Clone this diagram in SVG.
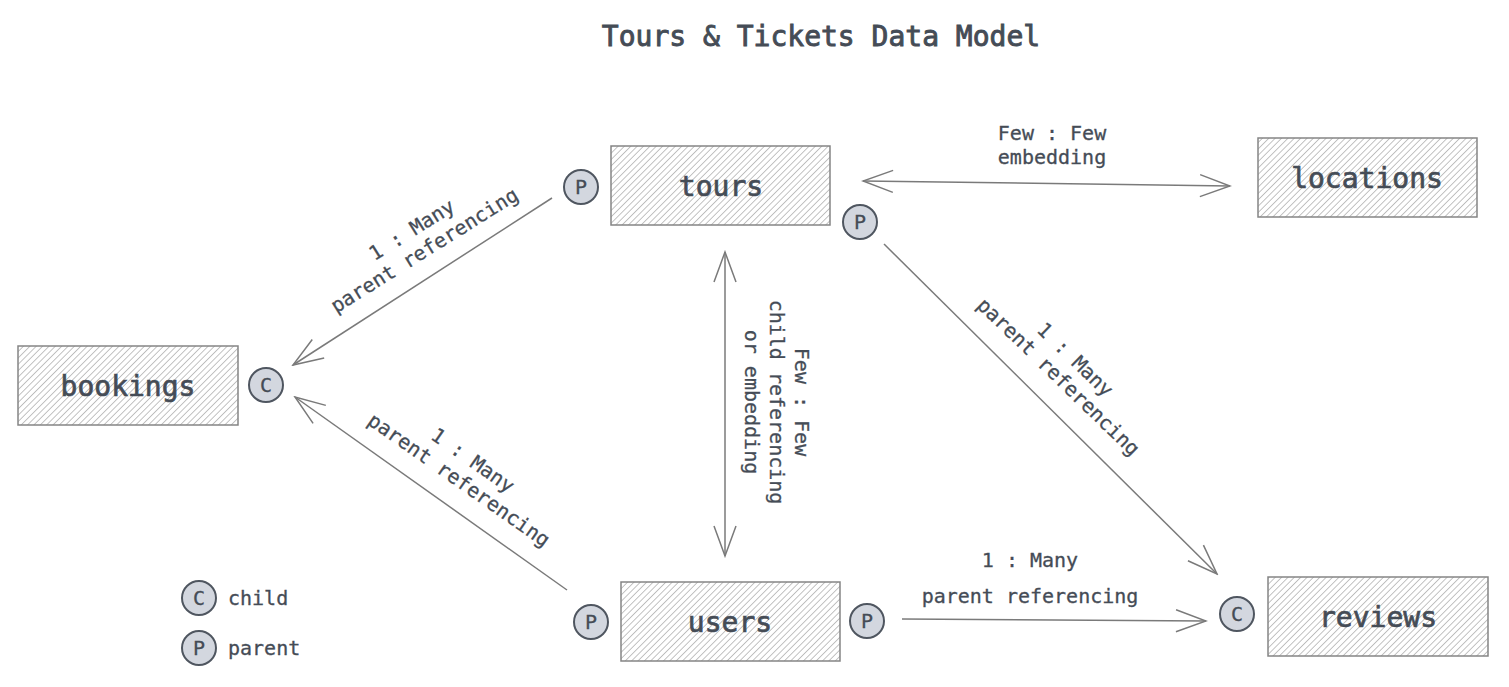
<svg xmlns="http://www.w3.org/2000/svg" width="1509" height="687" viewBox="0 0 1509 687">
<style>
text{font-family:"DejaVu Sans Mono","Liberation Mono",monospace;fill:#454c56}
.title{font-size:28px;text-anchor:middle;stroke:#454c56;stroke-width:0.9}
.box{fill:url(#hatch);stroke:#858585;stroke-width:1.5}
.blabel{font-size:28px;text-anchor:middle;stroke:#454c56;stroke-width:0.7}
.badge circle{fill:#d3d7df;stroke:#4f5660;stroke-width:2}
.badge text{font-size:20px;text-anchor:middle;stroke:#454c56;stroke-width:0.3}
.lbl{font-size:20px;text-anchor:middle;stroke:#454c56;stroke-width:0.3}
.leg{font-size:20px;stroke:#454c56;stroke-width:0.3}
.conn line{stroke:#7a7a7a;stroke-width:1.5;fill:none}
</style>
<defs>
<pattern id="hatch" patternUnits="userSpaceOnUse" width="4.5" height="4.5" patternTransform="rotate(45)">
<rect width="4.5" height="4.5" fill="#ffffff"/>
<line x1="0" y1="0" x2="0" y2="4.5" stroke="#9a9a9a" stroke-width="1.2"/>
</pattern>
<marker id="arr" markerUnits="userSpaceOnUse" markerWidth="34" markerHeight="26" viewBox="-32 -13 34 26" refX="0" refY="0" orient="auto-start-reverse">
<path d="M-30,-11 L0,0 L-30,11" fill="none" stroke="#7a7a7a" stroke-width="1.5"/>
</marker>
</defs>
<rect width="1509" height="687" fill="#ffffff"/>
<text class="title" x="821" y="46">Tours &amp; Tickets Data Model</text>

<g id="conns" class="conn">
<line x1="552" y1="198" x2="293" y2="365" marker-end="url(#arr)"/>
<line x1="567" y1="590" x2="295" y2="397" marker-end="url(#arr)"/>
<line x1="725" y1="556" x2="725" y2="252" marker-start="url(#arr)" marker-end="url(#arr)"/>
<line x1="863" y1="181" x2="1230" y2="186" marker-start="url(#arr)" marker-end="url(#arr)"/>
<line x1="884" y1="244" x2="1217" y2="574" marker-end="url(#arr)"/>
<line x1="902" y1="619" x2="1206" y2="621" marker-end="url(#arr)"/>
</g>

<g id="labels">
<text class="lbl" transform="translate(418,240) rotate(-32)"><tspan x="0" y="-5">1 : Many</tspan><tspan x="0" y="19">parent referencing</tspan></text>
<text class="lbl" transform="translate(466,470) rotate(35)"><tspan x="0" y="-5">1 : Many</tspan><tspan x="0" y="19">parent referencing</tspan></text>
<text class="lbl" transform="translate(1067,368) rotate(44)"><tspan x="0" y="-5">1 : Many</tspan><tspan x="0" y="19">parent referencing</tspan></text>
<text class="lbl" transform="translate(777,402) rotate(90)"><tspan x="0" y="-18">Few : Few</tspan><tspan x="0" y="7">child referencing</tspan><tspan x="0" y="32">or embedding</tspan></text>
<text class="lbl"><tspan x="1052" y="140">Few : Few</tspan><tspan x="1052" y="164">embedding</tspan></text>
<text class="lbl"><tspan x="1030" y="567">1 : Many</tspan><tspan x="1030" y="603">parent referencing</tspan></text>
</g>

<g id="tours"><rect class="box" x="611" y="146" width="219" height="79"/><text class="blabel" x="721" y="196">tours</text></g>
<g id="locations"><rect class="box" x="1258" y="138" width="219" height="79"/><text class="blabel" x="1367" y="188">locations</text></g>
<g id="bookings"><rect class="box" x="18" y="346" width="220" height="79"/><text class="blabel" x="128" y="396">bookings</text></g>
<g id="users"><rect class="box" x="621" y="582" width="219" height="79"/><text class="blabel" x="730" y="632">users</text></g>
<g id="reviews"><rect class="box" x="1268" y="577" width="220" height="79"/><text class="blabel" x="1378" y="627">reviews</text></g>

<g id="badge-tours-p1" class="badge"><circle cx="581" cy="187" r="17"/><text x="581" y="194">P</text></g>
<g id="badge-tours-p2" class="badge"><circle cx="860" cy="222" r="17"/><text x="860" y="229">P</text></g>
<g id="badge-bookings-c" class="badge"><circle cx="266" cy="385" r="17"/><text x="266" y="392">C</text></g>
<g id="badge-users-p1" class="badge"><circle cx="591" cy="622" r="17"/><text x="591" y="629">P</text></g>
<g id="badge-users-p2" class="badge"><circle cx="867" cy="621" r="17"/><text x="867" y="628">P</text></g>
<g id="badge-reviews-c" class="badge"><circle cx="1237" cy="614" r="17"/><text x="1237" y="621">C</text></g>

<g id="legend">
<g class="badge"><circle cx="199" cy="598" r="17"/><text x="199" y="605">C</text></g>
<text class="leg" x="228" y="605">child</text>
<g class="badge"><circle cx="199" cy="648" r="17"/><text x="199" y="655">P</text></g>
<text class="leg" x="228" y="655">parent</text>
</g>
</svg>
